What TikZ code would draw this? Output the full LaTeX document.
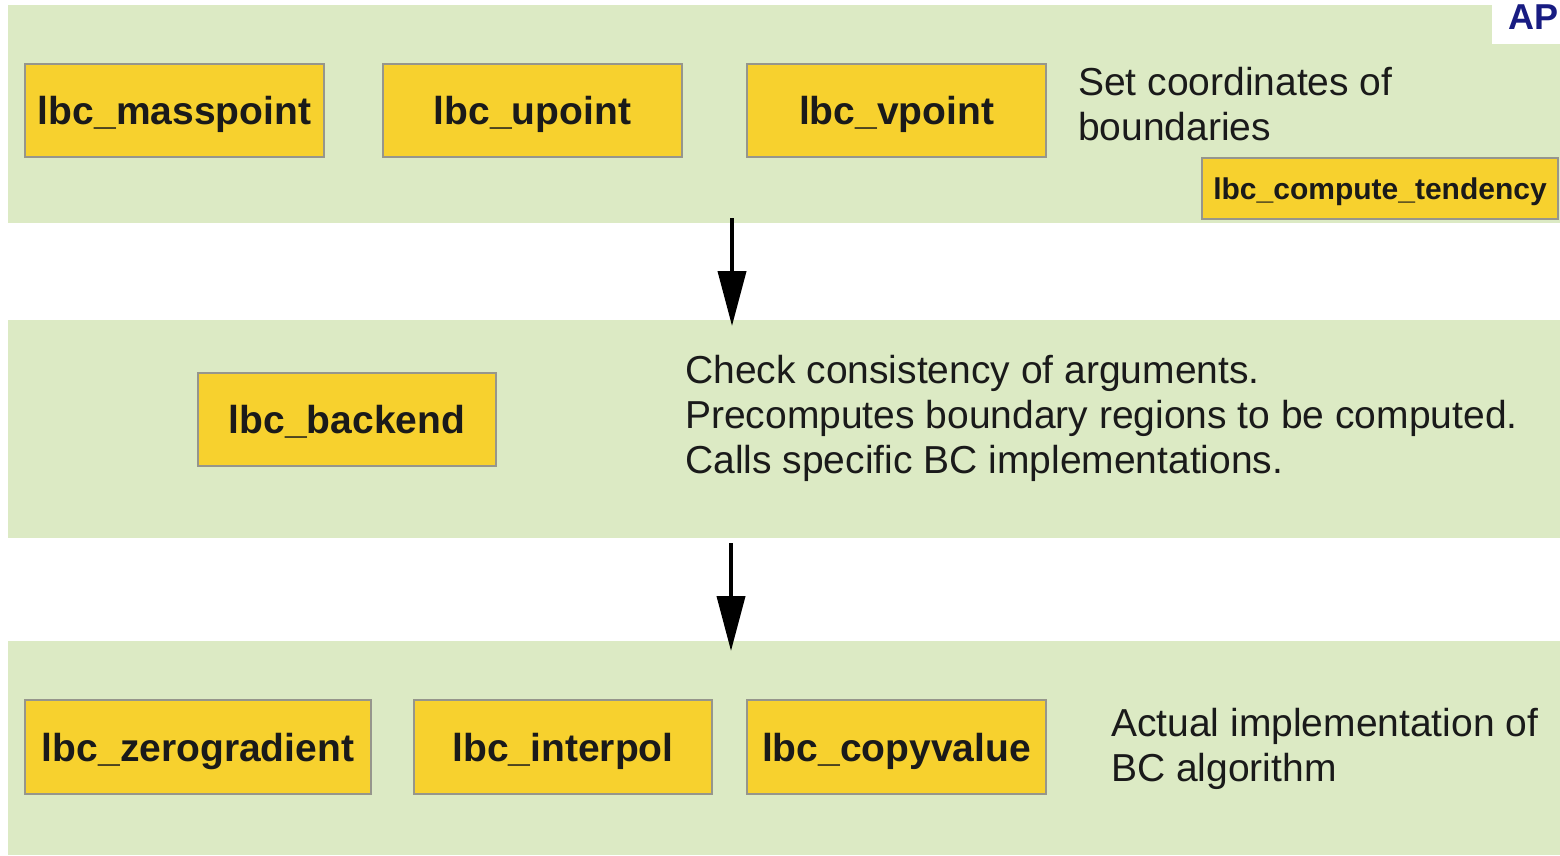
\documentclass[tikz,border=0pt]{standalone}
\usepackage{fontspec}
\setmainfont{Liberation Sans}
\usetikzlibrary{arrows.meta}
\definecolor{bandgreen}{RGB}{220,234,196}
\definecolor{boxyellow}{RGB}{247,209,46}
\definecolor{boxedge}{RGB}{150,150,140}
\definecolor{textdark}{RGB}{26,26,26}
\definecolor{apblue}{RGB}{24,28,130}
\tikzset{
  band/.style={fill=bandgreen, draw=none, anchor=north west, inner sep=0pt},
  fbox/.style={fill=boxyellow, draw=boxedge, line width=1.2pt, inner sep=0pt,
    text=textdark, text height=28pt, text depth=0pt,
    font=\fontsize{39}{45}\selectfont\bfseries},
  note/.style={anchor=north west, inner sep=0pt, align=left, text=textdark,
    font=\fontsize{39}{45}\selectfont},
  flow/.style={line width=4pt, -{Triangle[length=55pt, width=28pt]}}
}
\begin{document}
\begin{tikzpicture}[x=1pt, y=-1pt]
\useasboundingbox (0,0) rectangle (1560,855);
\fill[white] (0,0) rectangle (1560,855);

% three horizontal bands
\node[band, minimum width=1552pt, minimum height=218pt] (band1) at (8,5) {};
\node[band, minimum width=1552pt, minimum height=218pt] (band2) at (8,320) {};
\node[band, minimum width=1552pt, minimum height=214pt] (band3) at (8,641) {};

% logo corner
\fill[white] (1492,0) rectangle (1560,44);
\node[anchor=north east, inner sep=0pt, text=apblue,
  font=\fontsize{36}{40}\selectfont\bfseries] (ap) at (1559,5) {AP};

% top band: boundary coordinates
\node[fbox, minimum width=299pt, minimum height=93pt] (mass) at (174.5,110.5) {lbc\_masspoint};
\node[fbox, minimum width=299pt, minimum height=93pt] (upt) at (532.5,110.5) {lbc\_upoint};
\node[fbox, minimum width=299pt, minimum height=93pt] (vpt) at (896.5,110.5) {lbc\_vpoint};
\node[fbox, minimum width=356pt, minimum height=61pt, text height=22pt,
  font=\fontsize{30}{34}\selectfont\bfseries] (tend) at (1380,188.5) {lbc\_compute\_tendency};
\node[note] (t1) at (1078,67) {Set coordinates of\\boundaries};

% middle band: backend
\node[fbox, minimum width=298pt, minimum height=93pt] (back) at (347,419.5) {lbc\_backend};
\node[note] (t2) at (685,355) {Check consistency of arguments.\\Precomputes boundary regions to be computed.\\Calls specific BC implementations.};

% bottom band: algorithms
\node[fbox, minimum width=346pt, minimum height=94pt] (zero) at (198,747) {lbc\_zerogradient};
\node[fbox, minimum width=298pt, minimum height=94pt] (interp) at (563,747) {lbc\_interpol};
\node[fbox, minimum width=299pt, minimum height=94pt] (copy) at (896.5,747) {lbc\_copyvalue};
\node[note] (t3) at (1111,708) {Actual implementation of\\BC algorithm};

% flow arrows between bands
\coordinate (a1s) at (732,218);
\coordinate (a1e) at (732,326);
\coordinate (a2s) at (731,543);
\coordinate (a2e) at (731,651);
\draw[flow] (a1s) -- (a1e);
\draw[flow] (a2s) -- (a2e);
\end{tikzpicture}
\end{document}
